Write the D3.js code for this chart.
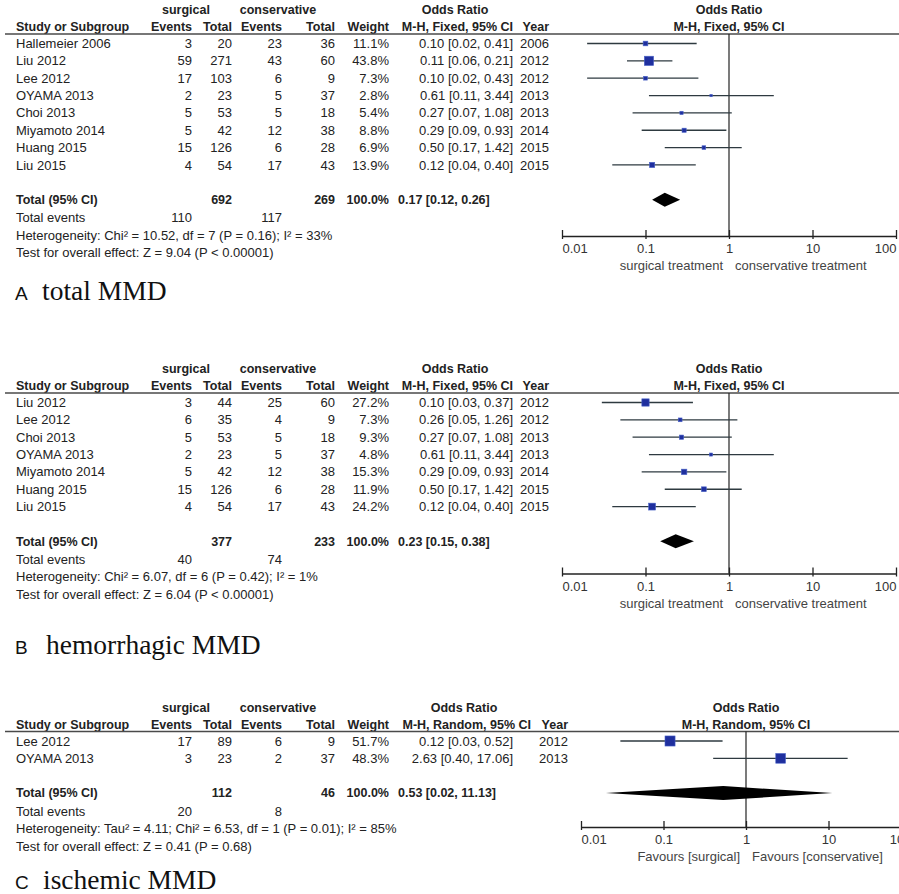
<!DOCTYPE html>
<meta charset="utf-8">
<head>
    <style>
        body { margin: 0; background: #fff; }
        text {
            font-family: "Liberation Sans", Arial, sans-serif;
            font-size: 13px;
            fill: #222;
        }
        .hdr, .bold text { font-weight: bold; font-size: 12.5px; }
        .axis text { fill: #333; font-size: 13px; }
        .favours { fill: #444; }
        .letter { font-size: 19px; fill: #111; }
        .word { font-family: "Liberation Serif", "Times New Roman", serif; font-size: 27.5px; fill: #111; }
    </style>
    <title>Forest plots MMD</title>
</head>
<body>
    <svg width="899" height="894"></svg>
</body>
<script src="https://d3js.org/d3.v7.min.js"></script>
<script>

    // ---- A: total MMD
    var studiesA = ["Hallemeier 2006", "Liu 2012", "Lee 2012", "OYAMA 2013", "Choi 2013", "Miyamoto 2014", "Huang 2015", "Liu 2015"];
    var evSurgA = [3, 59, 17, 2, 5, 5, 15, 4];
    var totSurgA = [20, 271, 103, 23, 53, 42, 126, 54];
    var evConsA = [23, 43, 6, 5, 5, 12, 6, 17];
    var totConsA = [36, 60, 9, 37, 18, 38, 28, 43];
    var weightA = [11.1, 43.8, 7.3, 2.8, 5.4, 8.8, 6.9, 13.9];
    var orA = [0.10, 0.11, 0.10, 0.61, 0.27, 0.29, 0.50, 0.12];
    var loA = [0.02, 0.06, 0.02, 0.11, 0.07, 0.09, 0.17, 0.04];
    var hiA = [0.41, 0.21, 0.43, 3.44, 1.08, 0.93, 1.42, 0.40];
    var yearA = [2006, 2012, 2012, 2013, 2013, 2014, 2015, 2015];
    var totalsA = [692, 269];
    var totalEventsA = [110, 117];
    var pooledA = [0.17, 0.12, 0.26];
    var hetA = "Heterogeneity: Chi\u00b2 = 10.52, df = 7 (P = 0.16); I\u00b2 = 33%";
    var testA = "Test for overall effect: Z = 9.04 (P < 0.00001)";

    // ---- B: hemorrhagic MMD
    var studiesB = ["Liu 2012", "Lee 2012", "Choi 2013", "OYAMA 2013", "Miyamoto 2014", "Huang 2015", "Liu 2015"];
    var evSurgB = [3, 6, 5, 2, 5, 15, 4];
    var totSurgB = [44, 35, 53, 23, 42, 126, 54];
    var evConsB = [25, 4, 5, 5, 12, 6, 17];
    var totConsB = [60, 9, 18, 37, 38, 28, 43];
    var weightB = [27.2, 7.3, 9.3, 4.8, 15.3, 11.9, 24.2];
    var orB = [0.10, 0.26, 0.27, 0.61, 0.29, 0.50, 0.12];
    var loB = [0.03, 0.05, 0.07, 0.11, 0.09, 0.17, 0.04];
    var hiB = [0.37, 1.26, 1.08, 3.44, 0.93, 1.42, 0.40];
    var yearB = [2012, 2012, 2013, 2013, 2014, 2015, 2015];
    var totalsB = [377, 233];
    var totalEventsB = [40, 74];
    var pooledB = [0.23, 0.15, 0.38];
    var hetB = "Heterogeneity: Chi\u00b2 = 6.07, df = 6 (P = 0.42); I\u00b2 = 1%";
    var testB = "Test for overall effect: Z = 6.04 (P < 0.00001)";

    // ---- C: ischemic MMD
    var studiesC = ["Lee 2012", "OYAMA 2013"];
    var evSurgC = [17, 3];
    var totSurgC = [89, 23];
    var evConsC = [6, 2];
    var totConsC = [9, 37];
    var weightC = [51.7, 48.3];
    var orC = [0.12, 2.63];
    var loC = [0.03, 0.40];
    var hiC = [0.52, 17.06];
    var yearC = [2012, 2013];
    var totalsC = [112, 46];
    var totalEventsC = [20, 8];
    var pooledC = [0.53, 0.02, 11.13];
    var hetC = "Heterogeneity: Tau\u00b2 = 4.11; Chi\u00b2 = 6.53, df = 1 (P = 0.01); I\u00b2 = 85%";
    var testC = "Test for overall effect: Z = 0.41 (P = 0.68)";

    var ticks = [0.01, 0.1, 1, 10, 100];

    var svg = d3.select("svg"),
        width = +svg.attr("width"),
        rowH = 17.35;

    var size = d3.scaleSqrt().domain([0, 100]).range([0, 14]);
    var f2 = d3.format(".2f");

    function orText(o, l, h) {
        return f2(o) + " [" + f2(l) + ", " + f2(h) + "]";
    }

    function drawPanel(p) {
        var g = svg.append("g");
        var L = p.line;
        var x = d3.scaleLog().domain([0.01, 100]).range(p.xRange);
        var rows = p.studies.map(function (s, i) {
            return { name: s, es: p.evS[i], ts: p.totS[i], ec: p.evC[i], tc: p.totC[i],
                w: p.weight[i], or: p.or[i], lo: p.lo[i], hi: p.hi[i], year: p.year[i] };
        });
        var y = function (i) { return L + 9.5 + i * rowH; };
        var n = rows.length;
        var yTot = y(n + 1);
        var yAxis = p.axisY;
        var c = p.cols;

        // header
        var h1 = L - 20, h2 = L - 3;
        g.append("text").attr("class", "hdr").attr("x", c.surg).attr("y", h1).attr("text-anchor", "middle").text("surgical");
        g.append("text").attr("class", "hdr").attr("x", c.cons).attr("y", h1).attr("text-anchor", "middle").text("conservative");
        g.append("text").attr("class", "hdr").attr("x", c.orHead).attr("y", h1).attr("text-anchor", "middle").text("Odds Ratio");
        g.append("text").attr("class", "hdr").attr("x", x(1)).attr("y", h1).attr("text-anchor", "middle").text("Odds Ratio");

        var heads = [
            ["Study or Subgroup", 16, "start"],
            ["Events", c.es, "end"],
            ["Total", c.ts, "end"],
            ["Events", c.ec, "end"],
            ["Total", c.tc, "end"],
            ["Weight", c.w, "end"],
            [p.method, c.orHdr, "end"],
            ["Year", c.year, "end"]
        ];
        g.selectAll(".h2").data(heads).enter().append("text")
            .attr("class", "hdr")
            .attr("x", function (d) { return d[1]; })
            .attr("y", h2)
            .attr("text-anchor", function (d) { return d[2]; })
            .text(function (d) { return d[0]; });
        g.append("text").attr("class", "hdr").attr("x", x(1)).attr("y", h2).attr("text-anchor", "middle").text(p.method);

        g.append("line")
            .attr("x1", 5).attr("x2", width)
            .attr("y1", L).attr("y2", L)
            .attr("stroke", "#4a4a4a").attr("stroke-width", 1.5);

        // study rows
        var cells = [
            [function (d) { return d.name; }, 16, "start"],
            [function (d) { return d.es; }, c.es, "end"],
            [function (d) { return d.ts; }, c.ts, "end"],
            [function (d) { return d.ec; }, c.ec, "end"],
            [function (d) { return d.tc; }, c.tc, "end"],
            [function (d) { return d.w.toFixed(1) + "%"; }, c.w, "end"],
            [function (d) { return orText(d.or, d.lo, d.hi); }, c.or, "end"],
            [function (d) { return d.year; }, c.year, "end"]
        ];
        cells.forEach(function (cell) {
            g.selectAll(null).data(rows).enter().append("text")
                .attr("x", cell[1])
                .attr("y", function (d, i) { return y(i); })
                .attr("dy", "0.35em")
                .attr("text-anchor", cell[2])
                .text(cell[0]);
        });

        // totals
        var tg = g.append("g").attr("class", "bold");
        var tot = [
            ["Total (95% CI)", 16, "start"],
            [p.totals[0], c.ts, "end"],
            [p.totals[1], c.tc, "end"],
            ["100.0%", c.w, "end"],
            [orText(p.pooled[0], p.pooled[1], p.pooled[2]), c.orStart, "start"]
        ];
        tg.selectAll("text").data(tot).enter().append("text")
            .attr("x", function (d) { return d[1]; })
            .attr("y", yTot).attr("dy", "0.35em")
            .attr("text-anchor", function (d) { return d[2]; })
            .text(function (d) { return d[0]; });

        var yEv = yTot + 18, yHet = yTot + 35.5, yTest = yTot + 53;
        g.append("text").attr("x", 16).attr("y", yEv).attr("dy", "0.35em").text("Total events");
        g.append("text").attr("x", c.es).attr("y", yEv).attr("dy", "0.35em").attr("text-anchor", "end").text(p.totalEvents[0]);
        g.append("text").attr("x", c.ec).attr("y", yEv).attr("dy", "0.35em").attr("text-anchor", "end").text(p.totalEvents[1]);
        g.append("text").attr("x", 16).attr("y", yHet).attr("dy", "0.35em").text(p.het);
        g.append("text").attr("x", 16).attr("y", yTest).attr("dy", "0.35em").text(p.test);

        // plot
        g.append("line")
            .attr("x1", x(1)).attr("x2", x(1))
            .attr("y1", L).attr("y2", yAxis)
            .attr("stroke", "#222").attr("stroke-width", 1.2);

        g.selectAll(null).data(rows).enter().append("line")
            .attr("x1", function (d) { return x(d.lo); })
            .attr("x2", function (d) { return x(d.hi); })
            .attr("y1", function (d, i) { return y(i); })
            .attr("y2", function (d, i) { return y(i); })
            .attr("stroke", "#2e3a40").attr("stroke-width", 1.3);

        g.selectAll(null).data(rows).enter().append("rect")
            .attr("x", function (d) { return x(d.or) - size(d.w) / 2; })
            .attr("y", function (d, i) { return y(i) - size(d.w) / 2; })
            .attr("width", function (d) { return size(d.w); })
            .attr("height", function (d) { return size(d.w); })
            .attr("fill", "#1f2f9e")
            .attr("stroke", "#4a63c8").attr("stroke-width", 0.6);

        var pd = p.pooled;
        g.append("path")
            .attr("d", "M" + x(pd[1]) + "," + yTot +
                "L" + x(pd[0]) + "," + (yTot - 7) +
                "L" + x(pd[2]) + "," + yTot +
                "L" + x(pd[0]) + "," + (yTot + 7) + "Z")
            .attr("fill", "#000");

        var axis = g.append("g")
            .attr("class", "axis")
            .attr("transform", "translate(0," + yAxis + ")")
            .call(d3.axisBottom(x)
                .tickValues(ticks)
                .tickFormat(d3.format("~g"))
                .tickSizeInner(-6)
                .tickSizeOuter(0)
                .tickPadding(8));
        axis.select(".domain").attr("stroke", "#222").attr("stroke-width", 1.3);
        axis.selectAll(".tick line").attr("y1", 3).attr("y2", -6).attr("stroke", "#222").attr("stroke-width", 1.3);
        axis.selectAll("text")
            .attr("font-family", null).attr("font-size", null)
            .attr("text-anchor", function (d, i) {
                return i === 0 ? "start" : (i === ticks.length - 1 ? "end" : "middle");
            });

        g.append("text").attr("class", "favours").attr("x", x(1) - 6).attr("y", yAxis + 34)
            .attr("text-anchor", "end").text(p.favours[0]);
        g.append("text").attr("class", "favours").attr("x", x(1) + 6).attr("y", yAxis + 34)
            .text(p.favours[1]);

        // panel title
        g.append("text").attr("class", "letter").attr("x", 15).attr("y", p.titleY).text(p.letter);
        g.append("text").attr("class", "word").attr("x", p.titleX).attr("y", p.titleY).text(p.title);
    }

    var colsAB = { surg: 186, cons: 278, orHead: 455, es: 192, ts: 232, ec: 282, tc: 335, w: 389, or: 513, orHdr: 513, orStart: 398, year: 549 };
    var colsC = { surg: 186, cons: 278, orHead: 464, es: 192, ts: 232, ec: 282, tc: 335, w: 389, or: 513, orHdr: 531, orStart: 398, year: 568 };

    drawPanel({
        line: 34, axisY: 236, xRange: [562, 896], cols: colsAB, method: "M-H, Fixed, 95% CI",
        studies: studiesA, evS: evSurgA, totS: totSurgA, evC: evConsA, totC: totConsA,
        weight: weightA, or: orA, lo: loA, hi: hiA, year: yearA,
        totals: totalsA, totalEvents: totalEventsA, pooled: pooledA, het: hetA, test: testA,
        favours: ["surgical treatment", "conservative treatment"],
        letter: "A", title: "total MMD", titleX: 42, titleY: 300
    });
    drawPanel({
        line: 393, axisY: 573.5, xRange: [562, 896], cols: colsAB, method: "M-H, Fixed, 95% CI",
        studies: studiesB, evS: evSurgB, totS: totSurgB, evC: evConsB, totC: totConsB,
        weight: weightB, or: orB, lo: loB, hi: hiB, year: yearB,
        totals: totalsB, totalEvents: totalEventsB, pooled: pooledB, het: hetB, test: testB,
        favours: ["surgical treatment", "conservative treatment"],
        letter: "B", title: "hemorrhagic MMD", titleX: 46, titleY: 654
    });
    drawPanel({
        line: 731.5, axisY: 827, xRange: [581, 911], cols: colsC, method: "M-H, Random, 95% CI",
        studies: studiesC, evS: evSurgC, totS: totSurgC, evC: evConsC, totC: totConsC,
        weight: weightC, or: orC, lo: loC, hi: hiC, year: yearC,
        totals: totalsC, totalEvents: totalEventsC, pooled: pooledC, het: hetC, test: testC,
        favours: ["Favours [surgical]", "Favours [conservative]"],
        letter: "C", title: "ischemic MMD", titleX: 43, titleY: 889
    });

</script>
